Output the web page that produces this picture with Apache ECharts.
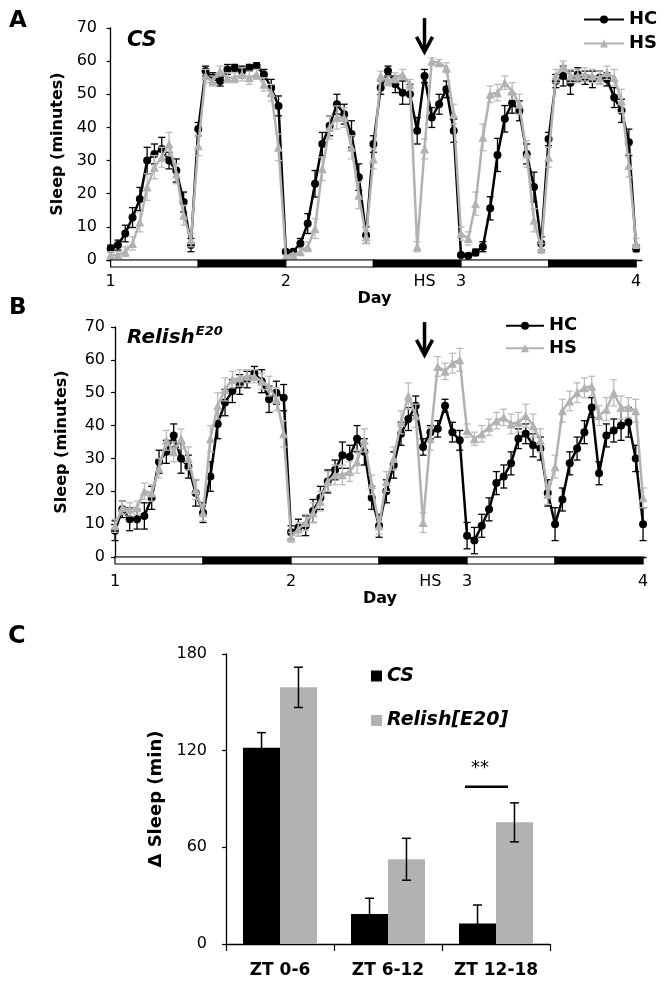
<!DOCTYPE html>
<html><head><meta charset="utf-8">
<script src="https://cdn.jsdelivr.net/npm/echarts@6/dist/echarts.min.js"></script>
<style>html,body{margin:0;padding:0;background:#fff}#c{width:664px;height:986px}</style>
</head><body><div id="c"></div>
<script>
// ---------- data ----------
const dayTicks = [0, 24, 43, 48, 72];
const dayTickLabels = ['1', '2', 'HS', '3', '4'];
const phases = [[0,12,0],[12,24,1],[24,36,0],[36,48,1],[48,60,0],[60,72,1]];

// Panel A (CS), hourly sleep minutes, hour 0..72
const csHC = [
 3.5, 4.5, 8, 12.8, 18.4, 30, 32, 33.5, 30, 27, 17.5, 4.5,
 39.5, 57, 55, 54, 57.5, 58, 57, 58, 58.5, 56, 52, 46.5,
 2.5, 2.5, 5, 11, 23, 35, 40.5, 47, 44, 38, 25, 7.5,
 35, 52, 57, 53, 50.5, 50, 39, 55.5, 43, 47, 51.5, 39,
 1.5, 1.3, 2.3, 4, 15.6, 31.7, 42.6, 47.3, 45, 32, 22, 5,
 36.5, 54, 55.5, 53.5, 56, 55, 54.5, 55, 54.5, 49, 45, 35.5,
 3.5];
const csHCerr = [
 1, 1.5, 2.5, 3, 3.5, 4, 3, 3.5, 2.5, 3.5, 3, 2,
 2, 1.5, 1.5, 1.5, 1.5, 1, 1.5, 1, 1, 1.5, 2.5, 3,
 0.5, 0.5, 1.5, 3, 4, 3.5, 3, 3, 3, 4, 4, 2.5,
 2.5, 2, 1.5, 2.5, 3.5, 3, 4, 2, 3, 3, 2.5, 3.5,
 0.5, 0.5, 1, 1.5, 3.5, 5, 4, 3, 3, 3, 4.5, 2,
 2, 2, 3, 3.5, 2, 2, 2.5, 2, 2, 3, 3.5, 4,
 1];
const csHS = [
 1.5, 1.5, 2.5, 5, 11.5, 22, 28, 31, 35, 26, 13.5, 6,
 34.5, 55.5, 54, 57, 55, 55, 56, 55, 56, 53, 50.5, 34,
 1, 1.5, 2.5, 4, 9.5, 27.5, 40, 43, 43, 34, 19.5, 7,
 30.5, 55.5, 54, 55, 56, 53, 4, 33.5, 60, 59.5, 58, 44,
 8, 6.5, 17, 37, 50, 50.5, 53.5, 51, 47, 32, 12, 3.5,
 31, 55.5, 58.5, 55.5, 55.5, 56, 55.5, 55, 56.5, 55, 48, 28.5,
 5];
const csHSerr = [
 1, 1, 1.5, 2, 3, 4, 3.5, 3, 3.5, 3, 3, 2,
 3, 2, 1.5, 1.5, 1.5, 1.5, 2, 2, 1.5, 2, 2.5, 4,
 0.5, 0.5, 1, 1.5, 3, 3.5, 3.5, 3.5, 3, 3.5, 4, 2,
 3, 1.5, 1.5, 1.5, 1.5, 1.5, 1.5, 3, 1, 1, 1.5, 3,
 2, 2, 3.5, 4, 2.5, 2.5, 2, 2.5, 3, 4, 3.5, 1.5,
 3, 2, 1.5, 2, 2, 2, 2, 2, 2, 2.5, 3.5, 3.5,
 1.5];

// Panel B (Relish E20)
const relHC = [
 8, 14.5, 11.5, 11.5, 12.5, 18, 29, 32, 37, 30, 27.5, 19.5,
 13.5, 24.5, 40.5, 47, 50.5, 52.5, 54, 56, 53.5, 48, 50, 48.5,
 7.5, 9, 9.5, 14, 18, 23, 26.5, 31, 30.5, 36, 32, 18,
 9.5, 20, 28, 37.5, 42, 46, 33.5, 38, 39, 46, 38, 35.5,
 6.5, 5, 9.5, 14.5, 22.5, 24.5, 28.5, 36, 37.5, 34, 33, 19.5,
 10, 17.5, 28.5, 33, 38, 45.5, 25.5, 37, 38.5, 40, 41, 30,
 10];
const relHCerr = [
 3, 2.5, 3.5, 3, 4, 3.5, 3.5, 3.5, 3.5, 4.5, 3.5, 4,
 3, 4.5, 4.5, 4, 3.5, 3, 2.5, 2, 3.5, 4, 3.5, 4,
 2, 2.5, 3, 3.5, 3.5, 3.5, 3, 4, 3.5, 4, 4, 3.5,
 3.5, 3.5, 4, 3.5, 3.5, 3, 2.5, 2, 2.5, 2, 3, 3,
 4, 4, 3.5, 3.5, 3.5, 3.5, 3.5, 3, 3, 3.5, 3.5, 4,
 5, 3.5, 3.5, 3.5, 3.5, 3, 3.5, 3.5, 3.5, 4.5, 4.5, 4,
 5];
const relHS = [
 9.5, 15, 14.5, 15, 20, 19.5, 27, 35.5, 32, 36, 30, 20.5,
 13.5, 36, 46, 51, 54, 54.5, 55, 55, 53.5, 52, 48, 37.5,
 6, 8.5, 10.5, 13.5, 17, 23, 25, 25, 26, 29, 35.5, 22,
 9.5, 23, 30, 41, 49, 43, 10.5, 36, 58, 56.5, 59, 60,
 38.5, 36, 37.5, 39.5, 41.5, 42.5, 40.5, 41, 43, 40, 35.5, 19,
 27.5, 44.5, 47.5, 50, 51.5, 52, 43, 45, 50, 45.5, 45.5, 44.5,
 18];
const relHSerr = [
 2, 2, 2, 2, 2.5, 2.5, 3, 3, 3, 3, 3.5, 3,
 2.5, 4, 4, 3.5, 2.5, 2.5, 2, 2, 2.5, 3, 3.5, 4,
 1.5, 2, 2.5, 3, 3, 3, 3, 3, 3, 3.5, 3.5, 3,
 2.5, 3, 3.5, 3.5, 4, 3.5, 3, 3.5, 3, 2.5, 3, 3.5,
 2, 2, 2.5, 2.5, 2.5, 2.5, 3, 3, 3.5, 3.5, 3.5, 3,
 3.5, 3.5, 3, 3, 3, 3, 3, 3.5, 4, 3.5, 3, 3.5,
 3];

// Panel C
const barCats = ['ZT 0-6', 'ZT 6-12', 'ZT 12-18'];
const barCS = [121.8, 18.6, 12.8];
const barCSerr = [9.4, 9.8, 11.4];
const barRel = [159.3, 52.6, 75.5];
const barRelErr = [12.5, 13, 12.1];
const sigValue = 97.6;

// ---------- helpers ----------
const F = "'DejaVu Sans', sans-serif";
const BLACK = '#000', GRAY = '#b2b2b2', GRAYERR = '#bcbcbc';

function pairs(vals) { return vals.map((v, i) => [i, v]); }
function errData(vals, e) { return vals.map((v, i) => [i, Math.max(0, v - e[i]), v + e[i]]); }

function errSeries(vals, e, gi, color, z) {
  return {
    type: 'custom', xAxisIndex: gi, yAxisIndex: gi, z, silent: true,
    data: errData(vals, e), encode: { x: 0, y: [1, 2] },
    renderItem: function (p, api) {
      const x = api.value(0);
      const lo = api.coord([x, api.value(1)]), hi = api.coord([x, api.value(2)]);
      const cap = 3.5, st = { stroke: color, lineWidth: 1.3 };
      return { type: 'group', children: [
        { type: 'line', shape: { x1: lo[0], y1: lo[1], x2: hi[0], y2: hi[1] }, style: st },
        { type: 'line', shape: { x1: hi[0] - cap, y1: hi[1], x2: hi[0] + cap, y2: hi[1] }, style: st },
        { type: 'line', shape: { x1: lo[0] - cap, y1: lo[1], x2: lo[0] + cap, y2: lo[1] }, style: st }
      ]};
    }
  };
}
function lineSeries(name, vals, gi, color, symbol, size, z) {
  return {
    type: 'line', name, xAxisIndex: gi, yAxisIndex: gi, data: pairs(vals),
    symbol, symbolSize: size, showSymbol: true, z,
    lineStyle: { color, width: 2.5 }, itemStyle: { color }
  };
}
function stripSeries(gi) {
  return {
    type: 'custom', xAxisIndex: gi, yAxisIndex: gi, z: 10, silent: true, clip: false,
    data: phases, encode: { x: [0, 1], y: 2 },
    renderItem: function (p, api) {
      const a = api.coord([api.value(0), 0]), b = api.coord([api.value(1), 0]);
      const dark = api.value(2) === 1;
      return { type: 'rect', shape: { x: a[0], y: a[1], width: b[0] - a[0], height: 7 },
        style: { fill: dark ? '#000' : '#fff', stroke: '#000', lineWidth: 1.2 } };
    }
  };
}
function barErrSeries(vals, e, sideRatio) {
  return {
    type: 'custom', xAxisIndex: 2, yAxisIndex: 2, z: 5, silent: true,
    data: vals.map((v, i) => [i, v - e[i], v + e[i]]), encode: { x: 0, y: [1, 2] },
    renderItem: function (p, api) {
      const band = api.size([1, 0])[0];
      const lo = api.coord([api.value(0), api.value(1)]), hi = api.coord([api.value(0), api.value(2)]);
      const x = lo[0] + band * sideRatio, cap = 4.5, st = { stroke: '#000', lineWidth: 1.5 };
      return { type: 'group', children: [
        { type: 'line', shape: { x1: x, y1: lo[1], x2: x, y2: hi[1] }, style: st },
        { type: 'line', shape: { x1: x - cap, y1: hi[1], x2: x + cap, y2: hi[1] }, style: st },
        { type: 'line', shape: { x1: x - cap, y1: lo[1], x2: x + cap, y2: lo[1] }, style: st }
      ]};
    }
  };
}
function dayXAxis(gi, min, max, margin, gap) {
  return {
    type: 'value', gridIndex: gi, min, max,
    axisLine: { lineStyle: { color: '#000', width: 1.3 } },
    axisTick: { show: false }, splitLine: { show: false },
    axisLabel: { customValues: dayTicks, formatter: v => dayTickLabels[dayTicks.indexOf(v)] || '',
      color: '#000', fontSize: 16, fontFamily: F, margin },
    name: 'Day', nameLocation: 'middle', nameGap: gap,
    nameTextStyle: { color: '#000', fontSize: 16, fontWeight: 'bold', fontFamily: F }
  };
}
function sleepYAxis(gi, gap, margin) {
  return {
    type: 'value', gridIndex: gi, min: 0, max: 70, interval: 10,
    axisLine: { show: true, lineStyle: { color: '#000', width: 1.3 } },
    axisTick: { show: true, inside: false, length: 4, lineStyle: { color: '#000', width: 1.2 } },
    splitLine: { show: false },
    axisLabel: { color: '#000', fontSize: 16, fontFamily: F, margin },
    name: 'Sleep (minutes)', nameLocation: 'middle', nameGap: gap,
    nameTextStyle: { color: '#000', fontSize: 16, fontWeight: 'bold', fontFamily: F }
  };
}

const chart = echarts.init(document.getElementById('c'));
const option = {
  animation: false,
  backgroundColor: '#fff',
  grid: [
    { left: 107, top: 28, width: 535, height: 232 },
    { left: 114, top: 327, width: 532, height: 230 },
    { left: 226, top: 654, width: 324, height: 290 }
  ],
  xAxis: [
    dayXAxis(0, -0.5, 72.8, 14, 29),
    dayXAxis(1, -0.14, 72.4, 17, 32),
    { type: 'category', gridIndex: 2, data: barCats,
      axisLine: { lineStyle: { color: '#000', width: 1.3 } },
      axisTick: { show: true, length: 7, lineStyle: { color: '#000', width: 1.2 } },
      axisLabel: { interval: 0, color: '#000', fontSize: 17, fontWeight: 'bold', fontFamily: F, margin: 18 } }
  ],
  yAxis: [
    sleepYAxis(0, 37, 10),
    sleepYAxis(1, 44, 9),
    { type: 'value', gridIndex: 2, min: 0, max: 180, interval: 60,
      axisLine: { show: true, lineStyle: { color: '#000', width: 1.3 } },
      axisTick: { show: true, length: 4, lineStyle: { color: '#000', width: 1.2 } },
      splitLine: { show: false },
      axisLabel: { color: '#000', fontSize: 16, fontFamily: F, margin: 19 },
      name: 'Δ Sleep (min)', nameLocation: 'middle', nameGap: 61,
      nameTextStyle: { color: '#000', fontSize: 18, fontWeight: 'bold', fontFamily: F } }
  ],
  legend: [
    { left: 583, top: 10.5, orient: 'vertical', padding: 0, itemWidth: 40, itemHeight: 10, itemGap: 6,
      data: ['HC', 'HS'], selectedMode: false,
      textStyle: { color: '#000', fontSize: 18, fontWeight: 'bold', fontFamily: F, lineHeight: 18 } },
    { left: 505, top: 316.7, orient: 'vertical', padding: 0, itemWidth: 38, itemHeight: 10, itemGap: 4.6,
      data: ['HC', 'HS'], selectedMode: false,
      textStyle: { color: '#000', fontSize: 18, fontWeight: 'bold', fontFamily: F, lineHeight: 18 } },
    { left: 371, top: 666, orient: 'vertical', padding: 0, itemWidth: 11, itemHeight: 11, itemGap: 24.5,
      icon: 'rect', data: ['CS', 'Relish[E20]'], selectedMode: false,
      textStyle: { color: '#000', fontSize: 19, fontWeight: 'bold', fontStyle: 'italic', fontFamily: F, lineHeight: 20 } }
  ],
  series: [
    errSeries(csHC, csHCerr, 0, BLACK, 2),
    lineSeries('HC', csHC, 0, BLACK, 'circle', 8, 3),
    errSeries(csHS, csHSerr, 0, GRAYERR, 4),
    lineSeries('HS', csHS, 0, GRAY, 'triangle', 9, 5),
    stripSeries(0),
    errSeries(relHC, relHCerr, 1, BLACK, 2),
    lineSeries('HC', relHC, 1, BLACK, 'circle', 8, 3),
    errSeries(relHS, relHSerr, 1, GRAYERR, 4),
    lineSeries('HS', relHS, 1, GRAY, 'triangle', 9, 5),
    stripSeries(1),
    { type: 'bar', name: 'CS', xAxisIndex: 2, yAxisIndex: 2, data: barCS, barWidth: 37, barGap: '0%',
      itemStyle: { color: '#000' } },
    { type: 'bar', name: 'Relish[E20]', xAxisIndex: 2, yAxisIndex: 2, data: barRel, barWidth: 37, barGap: '0%',
      itemStyle: { color: '#b2b2b2' } },
    barErrSeries(barCS, barCSerr, -0.171),
    barErrSeries(barRel, barRelErr, 0.171)
  ]
};
chart.setOption(option);

// ---------- annotations ----------
function arrow(gi, x, yTop, yBot) {
  const t = chart.convertToPixel({ xAxisIndex: gi, yAxisIndex: gi }, [x, yTop]);
  const b = chart.convertToPixel({ xAxisIndex: gi, yAxisIndex: gi }, [x, yBot]);
  const st = { stroke: '#000', lineWidth: 3.5, fill: 'none' };
  return { type: 'group', children: [
    { type: 'line', shape: { x1: t[0], y1: t[1], x2: b[0], y2: b[1] - 2 }, style: st },
    { type: 'polyline', shape: { points: [[b[0] - 8, b[1] - 15], [b[0], b[1]], [b[0] + 8, b[1] - 15]] }, style: st }
  ]};
}
const sig = chart.convertToPixel({ xAxisIndex: 2, yAxisIndex: 2 }, [2, sigValue]);
const txt = (text, x, y, font, extra) => ({ type: 'text', x, y, style: Object.assign({ text, fill: '#000', font, verticalAlign: 'middle' }, extra || {}) });
chart.setOption({
  graphic: [
    txt('A', 9, 21, "bold 23px 'DejaVu Sans'"),
    txt('B', 9, 308, "bold 23px 'DejaVu Sans'"),
    txt('C', 8, 637, "bold 24px 'DejaVu Sans'"),
    txt('CS', 127, 41, "italic bold 21px 'DejaVu Sans'"),
    { type: 'text', x: 127, y: 338, style: { text: '{a|Relish}{b|E20}', fill: '#000', verticalAlign: 'middle',
      rich: { a: { font: "italic bold 20px 'DejaVu Sans'", fill: '#000' },
              b: { font: "italic bold 13px 'DejaVu Sans'", fill: '#000', padding: [0, 0, 12, 1] } } } },
    arrow(0, 43, 73, 62.8),
    arrow(1, 42.2, 71.5, 61.5),
    { type: 'line', shape: { x1: sig[0] - 31, y1: sig[1], x2: sig[0] + 12, y2: sig[1] }, style: { stroke: '#000', lineWidth: 2.6 } },
    txt('**', sig[0] - 16, sig[1] - 18, "18px 'DejaVu Sans'", { align: 'center' })
  ]
});
</script></body></html>
